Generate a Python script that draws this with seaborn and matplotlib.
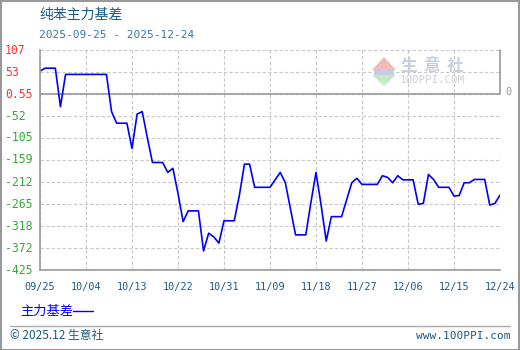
import matplotlib
matplotlib.use("Agg")
import matplotlib.pyplot as plt
import seaborn as sns
import pandas as pd
import numpy as np
from matplotlib.patches import Rectangle, Polygon
from matplotlib.lines import Line2D

# ---- data ----
dates = ["2025-09-25", "2025-09-26", "2025-09-28", "2025-09-29", "2025-09-30",
         "2025-10-08", "2025-10-09", "2025-10-10", "2025-10-12", "2025-10-13",
         "2025-10-14", "2025-10-15", "2025-10-16", "2025-10-17", "2025-10-19",
         "2025-10-20", "2025-10-21", "2025-10-22", "2025-10-23", "2025-10-24",
         "2025-10-26", "2025-10-27", "2025-10-28", "2025-10-29", "2025-10-30",
         "2025-10-31", "2025-11-02", "2025-11-03", "2025-11-04", "2025-11-05",
         "2025-11-06", "2025-11-09", "2025-11-10", "2025-11-11", "2025-11-12",
         "2025-11-13", "2025-11-14", "2025-11-16", "2025-11-17", "2025-11-18",
         "2025-11-19", "2025-11-20", "2025-11-21", "2025-11-23", "2025-11-24",
         "2025-11-25", "2025-11-26", "2025-11-27", "2025-11-30", "2025-12-01",
         "2025-12-02", "2025-12-03", "2025-12-04", "2025-12-05", "2025-12-07",
         "2025-12-08", "2025-12-09", "2025-12-10", "2025-12-11", "2025-12-12",
         "2025-12-14", "2025-12-15", "2025-12-16", "2025-12-17", "2025-12-18",
         "2025-12-19", "2025-12-21", "2025-12-22", "2025-12-23", "2025-12-24"]
basis = [56, 63, 63, -30, 48,
         48, -42, -70, -70, -131,
         -48, -42, -105, -165, -165,
         -189, -179, -240, -308, -282,
         -282, -379, -336, -345, -360,
         -306, -306, -245, -169, -169,
         -225, -225, -207, -189, -214,
         -277, -340, -340, -262, -189,
         -268, -355, -296, -296, -255,
         -214, -203, -218, -218, -197,
         -201, -214, -197, -207, -207,
         -266, -264, -194, -206, -225,
         -225, -246, -245, -214, -214,
         -206, -206, -268, -264, -244]
x_tick_labels = ["09/25", "10/04", "10/13", "10/22", "10/31", "11/09",
                 "11/18", "11/27", "12/06", "12/15", "12/24"]
y_tick_labels = ["-425", "-372", "-318", "-265", "-212", "-159",
                 "-105", "-52", "0.55", "53", "107"]
title = "纯苯主力基差"
subtitle = "2025-09-25 - 2025-12-24"
series_name = "主力基差"

df = pd.DataFrame({"date": pd.to_datetime(dates), "value": basis})

sns.set_style("white")
plt.rcParams["font.family"] = ["Noto Sans CJK SC", "DejaVu Sans"]

W, H = 520, 350
fig = plt.figure(figsize=(W / 100, H / 100), dpi=100)
L, R, T, B = 40, 500, 50, 270
ax = fig.add_axes([L / W, 1 - B / H, (R - L) / W, (B - T) / H])

sns.lineplot(data=df, x="date", y="value", ax=ax, color="#0000ff", linewidth=1.2)

x0 = pd.Timestamp("2025-09-25")
x1 = pd.Timestamp("2025-12-24")
ax.set_xlim(x0, x1)
ymin, ymax = -425, 107
ax.set_ylim(ymin, ymax)

xticks = pd.date_range(x0, x1, freq="9D")
ax.set_xticks(xticks)
yticks = np.linspace(ymin, ymax, 11)
ax.set_yticks(yticks)
ax.set_yticklabels([])
ax.set_xticklabels([])
ax.set_xlabel("")
ax.set_ylabel("")
ax.tick_params(length=0)

ax.grid(True, color="#c8c8c8", linestyle=(0, (3, 2)), linewidth=0.8)
ax.set_axisbelow(True)
for s in ["top", "right"]:
    ax.spines[s].set_visible(False)
for s in ["left", "bottom"]:
    ax.spines[s].set_color("#999999")
    ax.spines[s].set_linewidth(1.2)
# zero line
ax.axhline(yticks[8], color="#999999", linewidth=1.2, zorder=1)
# right solid segment above zero
ax.plot([x1, x1], [yticks[8], ymax], color="#999999", linewidth=1.2, clip_on=False, zorder=1)

# y tick labels (custom colored)
for v, lab in zip(yticks, y_tick_labels):
    ypix = B - (v - ymin) / (ymax - ymin) * (B - T)
    col = "#ff3030" if not lab.startswith("-") else "#33aa33"
    fig.text(5 / W, 1 - ypix / H, lab, color=col, fontsize=8.3, family="DejaVu Sans Mono",
             ha="left", va="center")

# x tick labels
for i, lab in enumerate(x_tick_labels):
    xpix = L + i * (R - L) / 10
    fig.text(xpix / W, 1 - 287 / H, lab, color="#1a5a8a", fontsize=7.3,
             family="DejaVu Sans Mono", ha="center", va="center")

# right "0"
fig.text(505 / W, 1 - 92 / H, "0", color="#999999", fontsize=7.5, family="DejaVu Sans Mono",
         ha="left", va="center")

# title and subtitle
fig.text(39 / W, 1 - 15 / H, title, color="#1a5a8a", fontsize=10, ha="left", va="center")
fig.text(39 / W, 1 - 35 / H, subtitle, color="#3a78a8", fontsize=8,
         family="DejaVu Sans Mono", ha="left", va="center")

# watermark
fig.patches.append(Polygon([[372 / W, 1 - 70 / H], [384 / W, 1 - 57 / H], [396 / W, 1 - 70 / H]],
                           closed=True, transform=fig.transFigure, facecolor="#f4b8b8",
                           edgecolor="none", zorder=0))
fig.patches.append(Polygon([[372 / W, 1 - 75 / H], [384 / W, 1 - 86 / H], [396 / W, 1 - 75 / H]],
                           closed=True, transform=fig.transFigure, facecolor="#c4ecc4",
                           edgecolor="none", zorder=0))
fig.patches.append(Rectangle((374 / W, 1 - 75 / H), 20 / W, 5 / H, transform=fig.transFigure,
                             facecolor="#c8cce0", edgecolor="none", zorder=0))
for cx, ch in zip([409, 432, 455], ["生", "意", "社"]):
    fig.text(cx / W, 1 - 66 / H, ch, color="#c8d0e0", fontsize=12, ha="center", va="center",
             fontweight="bold")
fig.text(432 / W, 1 - 80 / H, "100PPI.COM", color="#d0d0d0", fontsize=7.8, ha="center",
         va="center", family="DejaVu Sans Mono")

# legend
fig.text(20 / W, 1 - 311 / H, series_name, color="#0000ff", fontsize=9.5, ha="left", va="center")
fig.add_artist(Line2D([73 / W, 93 / W], [1 - 311 / H, 1 - 311 / H], color="#0000ff", linewidth=1))

# footer
fig.add_artist(Line2D([10 / W, 510 / W], [1 - 326 / H, 1 - 326 / H], color="#aaaaaa", linewidth=1))
fig.text(10 / W, 1 - 335 / H, "© 2025.12 生意社", color="#1a5a7a", fontsize=8.5, ha="left",
         va="center")
fig.text(510 / W, 1 - 336 / H, "www.100PPI.com", color="#1a5a7a", fontsize=8,
         family="DejaVu Sans Mono", ha="right", va="center")

# outer frame
fig.patches.append(Rectangle((0.5 / W, 0.5 / H), (W - 1.5) / W, (H - 1.5) / H,
                             transform=fig.transFigure, fill=False, edgecolor="#999999",
                             linewidth=1.5))

fig.savefig("out.png", dpi=100)
